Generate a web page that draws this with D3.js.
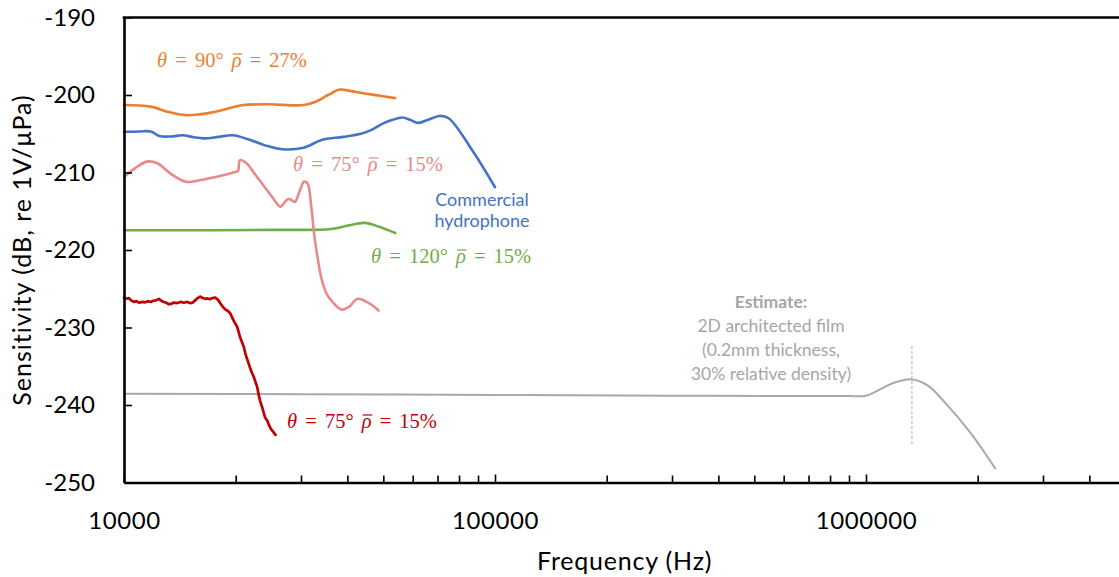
<!DOCTYPE html>
<html><head><meta charset="utf-8">
<script src="https://cdn.jsdelivr.net/npm/d3@7"></script>
<style>
body{margin:0;background:#fff}
svg{display:block;font-family:Lato,"Open Sans",sans-serif}
</style>
</head><body>
<svg id="chart" width="1119" height="577"></svg>
<script>
// ---------- data ----------
const yTicks = [-250, -240, -230, -220, -210, -200, -190];
const xMajorTicks = [10000, 100000, 1000000];
const xMinorTicks = [20000,30000,40000,50000,60000,70000,80000,90000,
                     200000,300000,400000,500000,600000,700000,800000,900000,
                     2000000,3000000,4000000];

const orangeF  = [10000, 11800, 13200, 14700, 16000, 17500, 19200, 21000, 24500, 30500, 32700, 35500, 38100, 41000, 44500, 49000, 53800];
const orangeDb = [-201.3, -201.5, -202.2, -202.6, -202.5, -202.2, -201.7, -201.3, -201.2, -201.3, -200.9, -200.0, -199.3, -199.5, -199.8, -200.1, -200.4];

const blueF  = [10000, 11000, 11800, 12470, 13400, 14400, 15400, 16400, 18000, 19600, 21900, 24000, 26700, 30500, 34100, 39000, 43500, 46500, 49800, 53000, 56200, 59000, 62100, 66000, 70800, 75000, 87000, 100000];
const blueDb = [-204.75, -204.7, -204.7, -205.3, -205.35, -205.2, -205.45, -205.6, -205.4, -205.2, -205.8, -206.5, -207.0, -206.8, -205.8, -205.4, -205.0, -204.5, -203.7, -203.2, -202.9, -203.2, -203.6, -203.2, -202.7, -203.0, -207.2, -211.9];

const pinkF  = [10000, 10670, 11530, 12300, 13400, 14700, 16000, 17550, 20050, 20300, 20550, 21400, 22600, 23970, 25300, 26380, 27370, 27830, 28400, 28900, 29800, 30560, 31240, 31970, 32700, 34150, 35300, 36490, 38580, 40500, 42600, 45500, 48550];
const pinkDb = [-210.6, -209.5, -208.6, -208.8, -210.2, -211.2, -211.0, -210.6, -209.9, -209.8, -208.4, -208.8, -210.3, -211.9, -213.4, -214.4, -213.6, -213.4, -213.6, -213.8, -212.3, -211.2, -211.4, -214.4, -218.7, -223.9, -225.8, -226.7, -227.7, -227.3, -226.3, -226.8, -227.8];

const greenF  = [10000, 17550, 25000, 32700, 35000, 37300, 40500, 44560, 48700, 53850];
const greenDb = [-217.45, -217.45, -217.4, -217.4, -217.35, -217.2, -216.8, -216.5, -217.0, -217.8];

const redF  = [10000,10150,10300,10450,10630,10800,11000,11200,11400,11600,11800,12000,12200,12410,12600,12800,13000,13200,13400,13600,13900,14200,14500,14800,15050,15300,15550,15800,16070,16300,16550,16800,17050,17300,17650,17900,18200,18500,18800,19100,19360,19600,19850,20180,20400,20600,20800,21030,21250,21450,21690,21900,22100,22390,22600,22860,23050,23250,23580,23800,24000,24320,24600,24900,25200,25600];
const redDb = [-226.15,-226.3,-226.2,-226.5,-226.7,-226.6,-226.8,-226.7,-226.75,-226.6,-226.7,-226.55,-226.5,-226.3,-226.55,-226.7,-226.8,-227.0,-226.95,-226.8,-226.85,-226.7,-226.8,-226.7,-226.85,-226.8,-226.5,-226.2,-226.0,-226.2,-226.3,-226.25,-226.35,-226.2,-226.15,-226.4,-226.9,-227.4,-227.7,-227.9,-228.2,-228.8,-229.3,-229.9,-230.7,-231.4,-231.9,-232.5,-233.4,-234.0,-234.7,-235.3,-235.8,-236.4,-237.0,-237.7,-238.6,-239.4,-240.3,-241.0,-241.6,-242.0,-242.6,-243.1,-243.4,-243.85];

const grayF  = [10000, 30000, 100000, 300000, 700000, 900000, 1000000, 1080000, 1180000, 1330000, 1470000, 1640000, 1920000, 2230000];
const grayDb = [-238.55, -238.6, -238.7, -238.8, -238.85, -238.85, -238.8, -238.1, -237.2, -236.7, -237.5, -239.8, -243.7, -248.2];

const peakF = 1330000, peakDbTop = -232.4, peakDbBottom = -245.2;

// ---------- layout ----------
const svg = d3.select('#chart');
const x = d3.scaleLog().domain([10000, 5000000]).range([124, 124 + Math.log10(500) * 371]);
const y = d3.scaleLinear().domain([-250, -190]).range([482.5, 17.5]);

const serif = '"Liberation Serif","Times New Roman",serif';

const series = [
  {f: grayF,   v: grayDb,   c: '#A9A9A9', w: 2,   curve: d3.curveCatmullRom.alpha(0.5)},
  {f: greenF,  v: greenDb,  c: '#70AD47', w: 2.6, curve: d3.curveCatmullRom.alpha(0.5)},
  {f: pinkF,   v: pinkDb,   c: '#E8898A', w: 2.6, curve: d3.curveCatmullRom.alpha(0.5)},
  {f: blueF,   v: blueDb,   c: '#4472C4', w: 2.6, curve: d3.curveCatmullRom.alpha(0.5)},
  {f: orangeF, v: orangeDb, c: '#ED7D31', w: 2.6, curve: d3.curveCatmullRom.alpha(0.5)},
  {f: redF,    v: redDb,    c: '#C00000', w: 2.7, curve: d3.curveLinear}
];

// dashed marker at estimated peak
svg.append('line')
  .attr('x1', x(peakF)).attr('x2', x(peakF))
  .attr('y1', y(peakDbTop)).attr('y2', y(peakDbBottom))
  .attr('stroke', '#A9A9A9').attr('stroke-width', 1).attr('stroke-dasharray', '3,2');

series.forEach(s => {
  const pts = s.f.map((f, i) => [f, s.v[i]]);
  svg.append('path')
    .datum(pts)
    .attr('fill', 'none')
    .attr('stroke', s.c)
    .attr('stroke-width', s.w)
    .attr('stroke-linejoin', 'round')
    .attr('stroke-linecap', 'round')
    .attr('d', d3.line().x(d => x(d[0])).y(d => y(d[1])).curve(s.curve));
});

// axes
const yAxis = d3.axisLeft(y).tickValues(yTicks).tickSizeInner(-8).tickSizeOuter(0).tickPadding(29).tickFormat(d3.format('d'));
const gy = svg.append('g').attr('transform', `translate(${x(10000)},0)`).call(yAxis);
gy.selectAll('text').attr('font-size', 24).attr('font-family', 'Lato').attr('fill', '#000').text(d => d < 0 ? '-' + Math.abs(d) : d);

const xAxisMinor = d3.axisBottom(x).tickValues(xMinorTicks).tickSizeInner(-7).tickSizeOuter(0).tickFormat('');
const gxm = svg.append('g').attr('transform', `translate(0,${y(-250)})`).call(xAxisMinor);
gxm.select('.domain').remove();
const xAxis = d3.axisBottom(x).tickValues(xMajorTicks).tickSizeInner(-8).tickSizeOuter(0).tickPadding(29).tickFormat(d3.format('d'));
const gx = svg.append('g').attr('transform', `translate(0,${y(-250)})`).call(xAxis);
gx.selectAll('text').attr('font-size', 24).attr('font-family', 'Lato').attr('fill', '#000').attr('letter-spacing', 0.6);

[gy, gx, gxm].forEach(g => {
  g.selectAll('.tick line').attr('stroke', '#000').attr('stroke-width', 1.6);
  g.select('.domain').attr('stroke', '#000').attr('stroke-width', 2.6);
});

// top border
svg.append('line')
  .attr('x1', x(10000) - 1.3).attr('x2', x(5000000))
  .attr('y1', y(-190)).attr('y2', y(-190))
  .attr('stroke', '#000').attr('stroke-width', 2.6);

// axis titles
svg.append('text')
  .attr('x', (x.range()[0] + x.range()[1]) / 2).attr('y', 570)
  .attr('text-anchor', 'middle').attr('font-size', 25).attr('letter-spacing', 0.8).attr('fill', '#000')
  .text('Frequency (Hz)');
svg.append('text')
  .attr('transform', 'translate(31,250) rotate(-90)')
  .attr('text-anchor', 'middle').attr('font-size', 25).attr('letter-spacing', 1).attr('fill', '#000')
  .text('Sensitivity (dB, re 1V/μPa)');

// math-style series labels (θ, ρ̄)
function mathLabel(xx, yy, color, angle, rho) {
  const t = svg.append('text').attr('x', xx).attr('y', yy)
    .attr('font-family', serif).attr('font-size', 20.5).attr('fill', color)
    .attr('word-spacing', 3).attr('xml:space', 'preserve');
  t.append('tspan').attr('font-style', 'italic').text('θ');
  t.append('tspan').text(` = ${angle}° `);
  const r = t.append('tspan').attr('font-style', 'italic').text('ρ');
  t.append('tspan').text(` = ${rho}%`);
  const bb = r.node().getBBox();
  svg.append('line')
    .attr('x1', bb.x + 2).attr('x2', bb.x + bb.width + 0.5)
    .attr('y1', yy - 13).attr('y2', yy - 13)
    .attr('stroke', color).attr('stroke-width', 1.2);
}
mathLabel(157, 67, '#ED7D31', 90, 27);
mathLabel(293, 171, '#E8898A', 75, 15);
mathLabel(371, 263, '#70AD47', 120, 15);
mathLabel(287, 428, '#C00000', 75, 15);

// commercial hydrophone label
const blueLabel = svg.append('text').attr('text-anchor', 'middle').attr('font-size', 18).attr('fill', '#4472C4');
blueLabel.append('tspan').attr('x', 482).attr('y', 206).text('Commercial');
blueLabel.append('tspan').attr('x', 482).attr('y', 227).text('hydrophone');

// estimate annotation
const est = svg.append('text').attr('text-anchor', 'middle').attr('font-size', 17.5).attr('fill', '#A6A6A6');
est.append('tspan').attr('x', 771).attr('y', 308).attr('font-weight', 'bold').text('Estimate:');
est.append('tspan').attr('x', 771).attr('y', 332).text('2D architected film');
est.append('tspan').attr('x', 771).attr('y', 356).text('(0.2mm thickness,');
est.append('tspan').attr('x', 771).attr('y', 380).text('30% relative density)');
</script>
</body></html>
